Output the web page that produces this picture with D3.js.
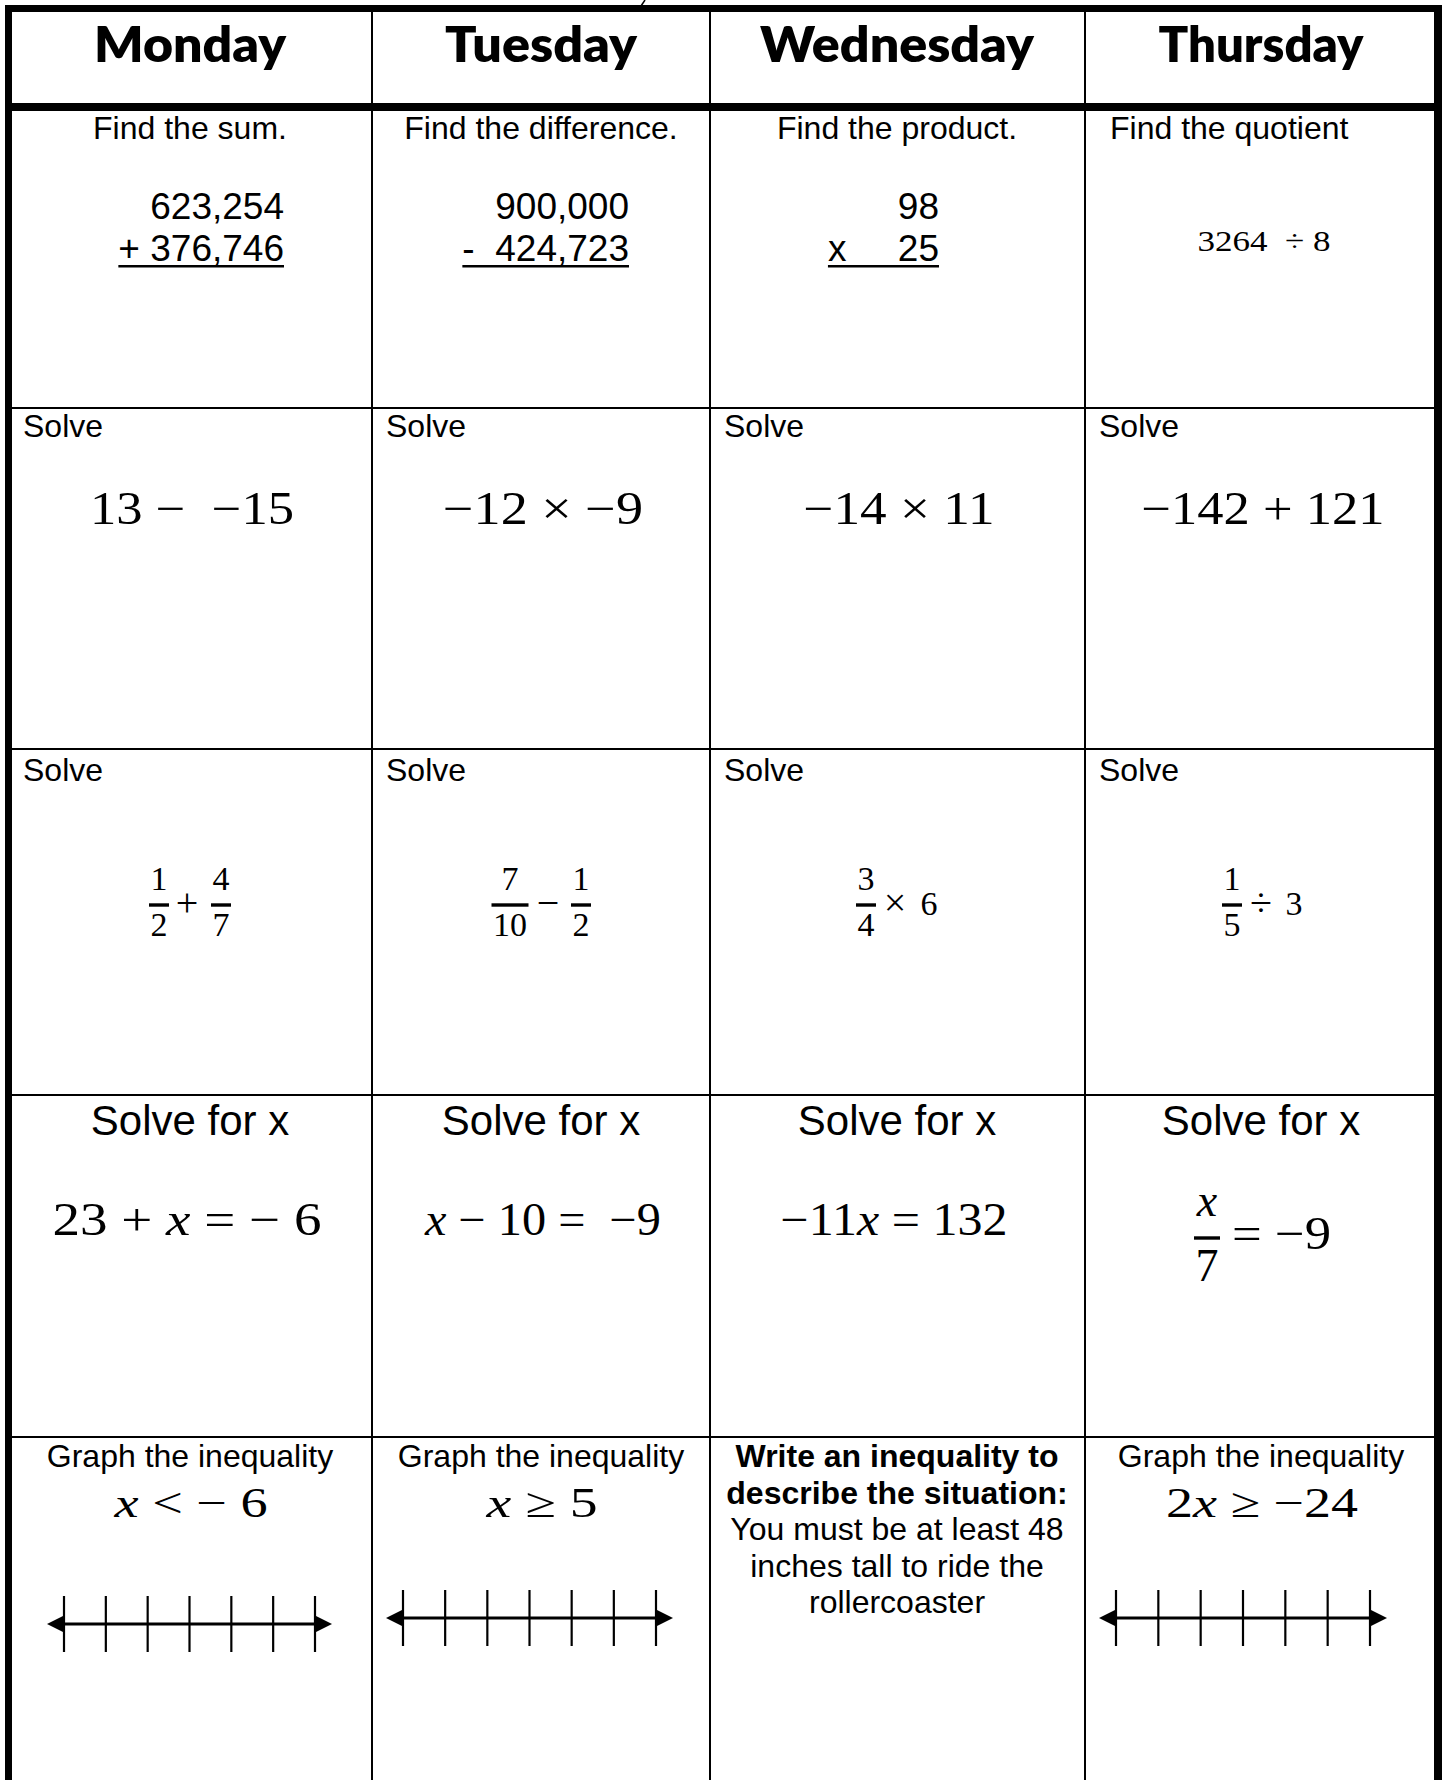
<!DOCTYPE html>
<html>
<head>
<meta charset="utf-8">
<script src="https://cdn.jsdelivr.net/npm/d3@7"></script>
<style>
  body { margin: 0; background: #fff; }
  svg { display: block; }
  text { white-space: pre; }
</style>
</head>
<body>
<script>
// worksheet content
var days = ["Monday", "Tuesday", "Wednesday", "Thursday"];
var prompts = ["Find the sum.", "Find the difference.", "Find the product.", "Find the quotient"];
var stackTop = ["623,254", "900,000", "98"];
var stackBottom = ["+ 376,746", "-  424,723", "x     25"];
var quotientExpr = "3264  ÷ 8";
var integerExprs = ["13 −  −15", "−12 × −9", "−14 × 11", "−142 + 121"];
var fracLeft = [["1", "2"], ["7", "10"], ["3", "4"], ["1", "5"]];
var fracOps = ["+", "−", "×", "÷"];
var fracRight = [["4", "7"], ["1", "2"], "6", "3"];
var equations = ["23 + x = − 6", "x − 10 =  −9", "−11x = 132"];
var lastEquation = { num: "x", den: "7", rest: "= −9" };
var inequalities = ["x < − 6", "x ≥ 5", null, "2x ≥ −24"];
var situationBold = ["Write an inequality to", "describe the situation:"];
var situationText = ["You must be at least 48", "inches tall to ride the", "rollercoaster"];
var lineTicks = [0, 1, 2, 3, 4, 5, 6];

var W = 1442, H = 1780;
var SANS = "'Liberation Sans', Arial, sans-serif";
var SERIF = "'Liberation Serif', 'Times New Roman', serif";
var HEAD = "Lato, 'DejaVu Sans', sans-serif";

// layout
var colEdges = [9, 372, 710, 1085, 1437];
var rowLines = [408, 749, 1095, 1437];
var cx = d3.scaleOrdinal().domain(days).range([190, 541, 897, 1261]);
var colLeft = d3.scaleOrdinal().domain(days).range(colEdges.slice(0, 4));

var svg = d3.select("body").append("svg")
  .attr("width", W)
  .attr("height", H);

svg.append("rect").attr("width", W).attr("height", H).attr("fill", "#fff");

// grid
var grid = svg.append("g").attr("fill", "#000");
grid.selectAll("rect.col")
  .data(colEdges.slice(1, 4))
  .enter().append("rect")
  .attr("x", function(d) { return d - 1; })
  .attr("y", 10)
  .attr("width", 2)
  .attr("height", H);
grid.selectAll("rect.row")
  .data(rowLines)
  .enter().append("rect")
  .attr("x", 9)
  .attr("y", function(d) { return d - 1; })
  .attr("width", 1430)
  .attr("height", 2);
grid.append("rect").attr("x", 5).attr("y", 5).attr("width", 1437).attr("height", 7);   // top
grid.append("rect").attr("x", 5).attr("y", 5).attr("width", 7).attr("height", H);     // left
grid.append("rect").attr("x", 1434).attr("y", 5).attr("width", 8).attr("height", H);  // right
grid.append("rect").attr("x", 5).attr("y", 103).attr("width", 1437).attr("height", 8); // header rule

// little pen stroke above the table
svg.append("line")
  .attr("x1", 639).attr("y1", 9).attr("x2", 645).attr("y2", 0)
  .attr("stroke", "#000").attr("stroke-width", 1.5);

// headers
var headWidths = [192, 192, 274, 205];
svg.selectAll("text.head")
  .data(days)
  .enter().append("text")
  .attr("class", "head")
  .attr("x", function(d) { return cx(d); })
  .attr("y", 62)
  .attr("text-anchor", "middle")
  .attr("font-family", HEAD)
  .attr("font-weight", 800)
  .attr("font-size", 50)
  .attr("textLength", function(d, i) { return headWidths[i]; })
  .attr("lengthAdjust", "spacingAndGlyphs")
  .text(function(d) { return d; });

function label(x, y, str, size, anchor, weight) {
  return svg.append("text")
    .attr("x", x).attr("y", y)
    .attr("text-anchor", anchor || "middle")
    .attr("font-family", SANS)
    .attr("font-size", size)
    .attr("font-weight", weight || 400)
    .text(str);
}

function math(x, y, str, size, width, anchor) {
  var t = svg.append("text")
    .attr("x", x).attr("y", y)
    .attr("text-anchor", anchor || "middle")
    .attr("font-family", SERIF)
    .attr("font-size", size);
  str.split(/(x)/).forEach(function(part) {
    if (!part) return;
    t.append("tspan")
      .attr("font-style", part === "x" ? "italic" : "normal")
      .text(part);
  });
  if (width) t.attr("textLength", width).attr("lengthAdjust", "spacingAndGlyphs");
  return t;
}

function fraction(x, barY, num, den, size, gap) {
  var n = math(x, barY - gap[0], num, size, null);
  var d = math(x, barY + gap[1], den, size, null);
  var w = Math.max(n.node().getComputedTextLength(), d.node().getComputedTextLength()) + 3;
  svg.append("rect")
    .attr("x", x - w / 2).attr("y", barY - 1.7)
    .attr("width", w).attr("height", 3.4)
    .attr("fill", "#000");
}

// row 1
prompts.forEach(function(p, i) {
  if (i === 3) label(1110, 139, p, 32, "start");
  else label(cx(days[i]), 139, p, 32);
});
var stackRight = [284, 629, 939];
stackTop.forEach(function(s, i) {
  label(stackRight[i], 219, s, 37, "end");
  var b = label(stackRight[i], 261, stackBottom[i], 37, "end");
  var w = b.node().getComputedTextLength();
  svg.append("rect")
    .attr("x", stackRight[i] - w).attr("y", 265)
    .attr("width", w).attr("height", 2.5)
    .attr("fill", "#000");
});
math(1264, 251, quotientExpr, 30, 133);

// row 2
var intWidths = [204, 200, 191, 243];
days.forEach(function(d, i) {
  label(colLeft(d) + 14, 437, "Solve", 32, "start");
  math(cx(d) + 2, 524, integerExprs[i], 46, intWidths[i]);
});

// row 3
var fracOffsets = [[-31, -3, 31], [-31, 7, 40], [-31, -2, 32], [-29, 0, 33]];
days.forEach(function(d, i) {
  label(colLeft(d) + 14, 781, "Solve", 32, "start");
  var o = fracOffsets[i];
  var base = cx(d);
  fraction(base + o[0], 905, fracLeft[i][0], fracLeft[i][1], 34, [15, 31]);
  math(base + o[1], 916, fracOps[i], 40, null);
  if (Array.isArray(fracRight[i])) fraction(base + o[2], 905, fracRight[i][0], fracRight[i][1], 34, [15, 31]);
  else math(base + o[2], 915, fracRight[i], 34, null);
});

// row 4
var eqWidths = [269, 236, 227];
days.forEach(function(d, i) {
  label(cx(d), 1135, "Solve for x", 42);
  if (i < 3) math(cx(d) - 3 + (i === 1 ? 5 : 0), 1235, equations[i], 46, eqWidths[i]);
});
fraction(1207, 1238, lastEquation.num, lastEquation.den, 46, [22, 43]);
math(1232, 1249, lastEquation.rest, 46, 99, "start");

// row 5
var ineqWidths = [153, 111, null, 192];
days.forEach(function(d, i) {
  if (inequalities[i] === null) return;
  label(cx(d), 1467, "Graph the inequality", 32);
  math(cx(d) + 1, 1517, inequalities[i], 42, ineqWidths[i]);
});
situationBold.forEach(function(s, i) {
  label(cx("Wednesday"), 1467 + i * 36.5, s, 32, "middle", 700);
});
situationText.forEach(function(s, i) {
  label(cx("Wednesday"), 1540 + i * 36.5, s, 32);
});

// number lines
var lines = [
  { day: "Monday", range: [64, 315], y: 1624 },
  { day: "Tuesday", range: [403, 656], y: 1618 },
  { day: "Thursday", range: [1116, 1370], y: 1618 }
];
lines.forEach(function(l) {
  var x = d3.scaleLinear().domain([lineTicks[0], lineTicks[lineTicks.length - 1]]).range(l.range);
  var g = svg.append("g");
  var x0 = x.range()[0], x1 = x.range()[1];
  g.append("line")
    .attr("x1", x0 - 4).attr("x2", x1 + 4)
    .attr("y1", l.y).attr("y2", l.y)
    .attr("stroke", "#000").attr("stroke-width", 2.8);
  g.selectAll("line.tick")
    .data(lineTicks)
    .enter().append("line")
    .attr("x1", function(d) { return x(d); })
    .attr("x2", function(d) { return x(d); })
    .attr("y1", l.y - 28).attr("y2", l.y + 28)
    .attr("stroke", "#000").attr("stroke-width", 2.2);
  g.append("path")
    .attr("d", "M" + (x0 - 17) + "," + l.y + "L" + (x0 + 1) + "," + (l.y - 9) + "L" + (x0 + 1) + "," + (l.y + 9) + "Z")
    .attr("fill", "#000");
  g.append("path")
    .attr("d", "M" + (x1 + 17) + "," + l.y + "L" + (x1 - 1) + "," + (l.y - 9) + "L" + (x1 - 1) + "," + (l.y + 9) + "Z")
    .attr("fill", "#000");
});
</script>
</body>
</html>
